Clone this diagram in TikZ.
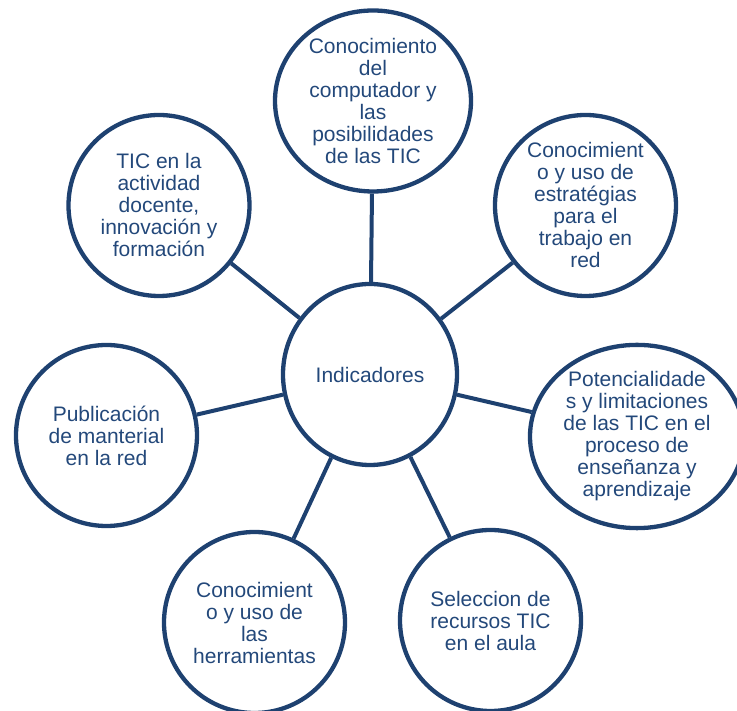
\documentclass[tikz,border=0pt]{standalone}
\usepackage{fontspec}
\setmainfont{Liberation Sans}
\usetikzlibrary{shapes.geometric}
\definecolor{navy}{RGB}{30,65,112}
\definecolor{navytext}{RGB}{35,72,122}

\begin{document}
\begin{tikzpicture}[x=1pt,y=1pt,
every node/.style={font=\fontsize{21}{22}\selectfont,text=navytext},
bub/.style={draw=navy,line width=4.3pt,ellipse,align=center,inner sep=0pt,minimum width=181pt,minimum height=181pt},
link/.style={draw=navy,line width=4pt}]
\useasboundingbox (-370,-336.5) rectangle (367,374.5);
\node[bub,minimum width=174pt] (hub) at (0,0) {Indicadores};
\node[bub,minimum width=196pt] (compu) at (3,273.5) {Conocimiento\\del\\computador y\\las\\posibilidades\\de las TIC};
\node[bub] (estrat) at (215.5,169) {Conocimient\\o y uso de\\estratégias\\para el\\trabajo en\\red};
\node[bub,minimum width=214pt] (poten) at (267,-62) {Potencialidade\\s y limitaciones\\de las TIC en el\\proceso de\\enseñanza y\\aprendizaje};
\node[bub] (selec) at (120.5,-246) {Seleccion de\\recursos TIC\\en el aula};
\node[bub] (herra) at (-115.5,-248) {Conocimient\\o y uso de\\las\\herramientas};
\node[bub] (publi) at (-263.5,-61) {Publicación\\de manterial\\en la red};
\node[bub] (docen) at (-211,169) {TIC en la\\actividad\\docente,\\innovación y\\formación};
\draw[link] (hub)--(compu);
\draw[link] (hub)--(estrat);
\draw[link] (hub)--(poten);
\draw[link] (hub)--(selec);
\draw[link] (hub)--(herra);
\draw[link] (hub)--(publi);
\draw[link] (hub)--(docen);
\end{tikzpicture}
\end{document}
